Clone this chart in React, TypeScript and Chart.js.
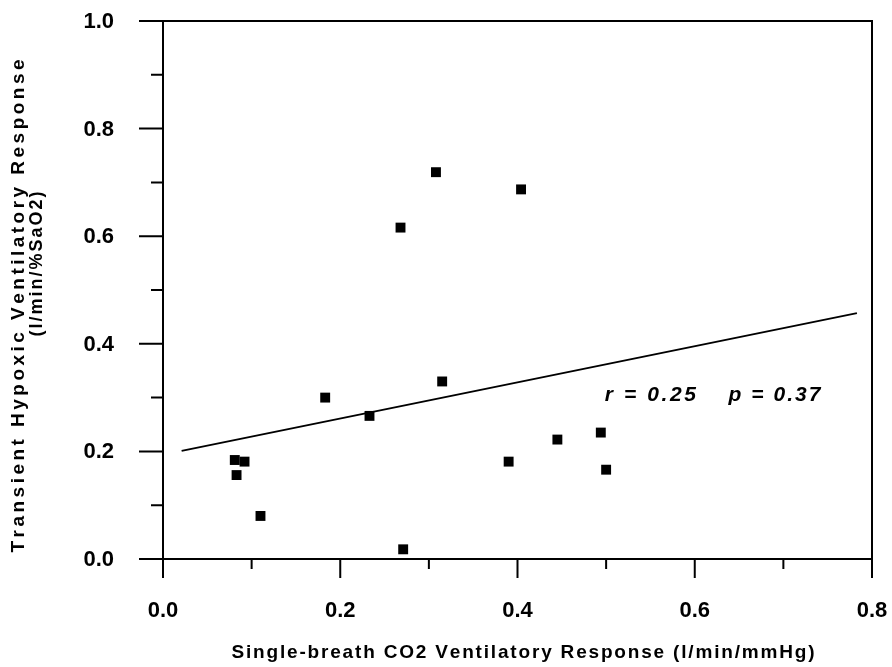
import { useEffect, useRef } from "react";
import { Chart, registerables } from "chart.js";
Chart.register(...registerables);

// ---- data ----
const pointX = [0.081, 0.092, 0.083, 0.110, 0.183, 0.233, 0.268, 0.271, 0.308, 0.315, 0.390, 0.404, 0.445, 0.494, 0.500];
const pointY = [0.184, 0.181, 0.156, 0.080, 0.300, 0.266, 0.616, 0.018, 0.719, 0.330, 0.181, 0.687, 0.222, 0.235, 0.166];
const fitX = [0.021, 0.783];
const fitY = [0.201, 0.457];

const xMajorTicks = [0, 0.2, 0.4, 0.6, 0.8];
const xTickLabels = ["0.0", "0.2", "0.4", "0.6", "0.8"];
const xMinorTicks = [0.1, 0.3, 0.5, 0.7];
const yMajorTicks = [0, 0.2, 0.4, 0.6, 0.8, 1.0];
const yTickLabels = ["0.0", "0.2", "0.4", "0.6", "0.8", "1.0"];
const yMinorTicks = [0.1, 0.3, 0.5, 0.7, 0.9];

const xTitle = "Single-breath CO2 Ventilatory Response (l/min/mmHg)";
const yTitleLines = ["Transient Hypoxic Ventilatory Response", "(l/min/%SaO2)"];
const statTexts = ["r = 0.25", "p = 0.37"];
const statAnchorX = [0.498, 0.638];
const statAnchorY = 0.305;

const FONT = "'Liberation Sans', Arial, sans-serif";

function spacedText(ctx: CanvasRenderingContext2D, text: string, cx: number, cy: number, width: number) {
  const chars = Array.from(text);
  const widths = chars.map((c) => ctx.measureText(c).width);
  const natural = widths.reduce((a, b) => a + b, 0);
  const gap = chars.length > 1 ? (width - natural) / (chars.length - 1) : 0;
  let x = cx - width / 2;
  ctx.textAlign = "left";
  chars.forEach((c, i) => {
    ctx.fillText(c, x, cy);
    x += widths[i] + gap;
  });
}

const framePlugin = {
  id: "frame",
  afterDraw(chart: any) {
    const { ctx, chartArea, scales } = chart;
    const { left, right, top, bottom } = chartArea;
    const xs = scales.x;
    const ys = scales.y;
    ctx.save();
    ctx.strokeStyle = "#000";
    ctx.fillStyle = "#000";
    ctx.lineWidth = 2;
    ctx.strokeRect(left, top, right - left, bottom - top);

    ctx.beginPath();
    yMajorTicks.forEach((v) => {
      const p = ys.getPixelForValue(v);
      ctx.moveTo(left - 24, p);
      ctx.lineTo(left, p);
    });
    yMinorTicks.forEach((v) => {
      const p = ys.getPixelForValue(v);
      ctx.moveTo(left - 12, p);
      ctx.lineTo(left, p);
    });
    xMajorTicks.forEach((v) => {
      const p = xs.getPixelForValue(v);
      ctx.moveTo(p, bottom);
      ctx.lineTo(p, bottom + 19);
    });
    xMinorTicks.forEach((v) => {
      const p = xs.getPixelForValue(v);
      ctx.moveTo(p, bottom);
      ctx.lineTo(p, bottom + 10);
    });
    ctx.stroke();

    // tick labels
    ctx.font = `bold 22px ${FONT}`;
    ctx.textBaseline = "middle";
    ctx.textAlign = "right";
    yMajorTicks.forEach((v, i) => {
      ctx.fillText(yTickLabels[i], left - 49, ys.getPixelForValue(v) + 1);
    });
    ctx.textAlign = "center";
    xMajorTicks.forEach((v, i) => {
      ctx.fillText(xTickLabels[i], xs.getPixelForValue(v), bottom + 52);
    });

    // x title
    ctx.font = `bold 19px ${FONT}`;
    spacedText(ctx, xTitle, 523, 653, 583);

    // y title
    ctx.save();
    ctx.translate(19, 306);
    ctx.rotate(-Math.PI / 2);
    ctx.font = `bold 19px ${FONT}`;
    spacedText(ctx, yTitleLines[0], 0, 0, 493);
    ctx.restore();
    ctx.save();
    ctx.translate(37, 264);
    ctx.rotate(-Math.PI / 2);
    ctx.font = `bold 18px ${FONT}`;
    spacedText(ctx, yTitleLines[1], 0, 0, 145);
    ctx.restore();

    // statistics annotation
    ctx.font = `italic bold 21px ${FONT}`;
    const sy = ys.getPixelForValue(statAnchorY);
    spacedText(ctx, statTexts[0], xs.getPixelForValue(statAnchorX[0]) + 46, sy, 91);
    spacedText(ctx, statTexts[1], xs.getPixelForValue(statAnchorX[1]) + 46, sy, 92);
    ctx.restore();
  },
};

export default function App() {
  const ref = useRef<HTMLCanvasElement | null>(null);
  useEffect(() => {
    if (!ref.current) return;
    const chart = new Chart(ref.current, {
      type: "scatter",
      data: {
        datasets: [
          {
            type: "line",
            data: fitX.map((x, i) => ({ x, y: fitY[i] })),
            borderColor: "#000",
            borderWidth: 2,
            pointRadius: 0,
            fill: false,
          },
          {
            type: "scatter",
            data: pointX.map((x, i) => ({ x, y: pointY[i] })),
            pointStyle: "rect",
            pointRadius: 7,
            backgroundColor: "#000",
            borderColor: "#000",
            borderWidth: 0,
          },
        ],
      },
      options: {
        animation: false,
        responsive: false,
        maintainAspectRatio: false,
        layout: { padding: { left: 163, right: 20, top: 21, bottom: 108 } },
        plugins: { legend: { display: false }, tooltip: { enabled: false } },
        scales: {
          x: { type: "linear", min: 0, max: 0.8, display: false },
          y: { type: "linear", min: 0, max: 1.0, display: false },
        },
      },
      plugins: [framePlugin],
    } as any);
    return () => chart.destroy();
  }, []);
  return (
    <div style={{ position: "fixed", left: 0, top: 0, width: 892, height: 667, background: "#fff" }}>
      <canvas ref={ref} width={892} height={667} style={{ width: 892, height: 667, display: "block" }} />
    </div>
  );
}
